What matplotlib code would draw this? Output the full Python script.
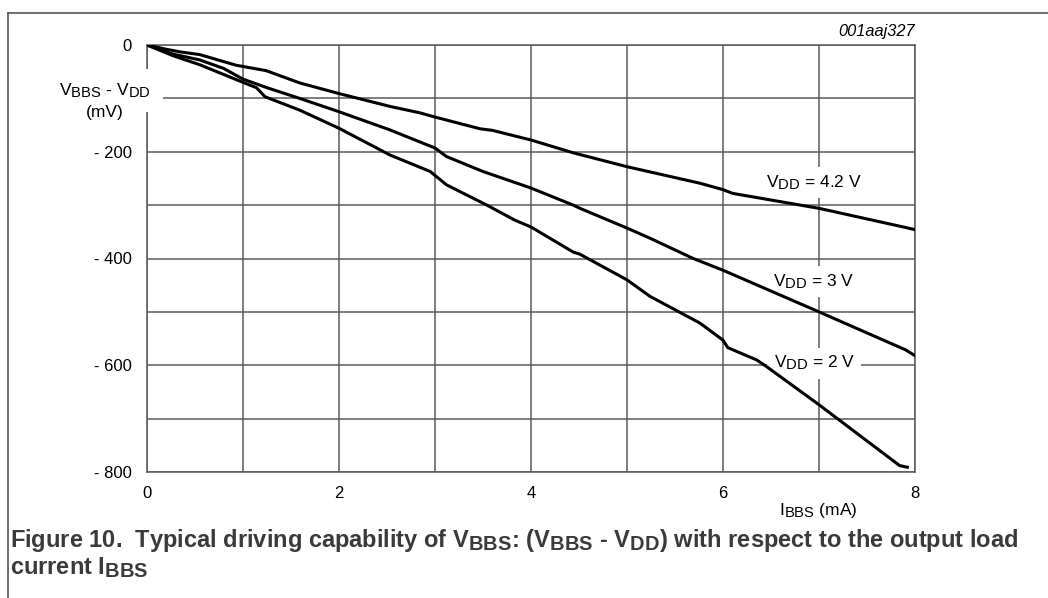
import numpy as np
import matplotlib
matplotlib.use("Agg")
import matplotlib.pyplot as plt
import matplotlib._mathtext as mt
from matplotlib.lines import Line2D
from matplotlib.ticker import MultipleLocator

plt.rcParams['font.family'] = ['Liberation Sans', 'DejaVu Sans']
plt.rcParams['mathtext.fontset'] = 'custom'
plt.rcParams['mathtext.rm'] = 'Liberation Sans'
plt.rcParams['mathtext.it'] = 'Liberation Sans:italic'
plt.rcParams['mathtext.bf'] = 'Liberation Sans:bold'
# the datasheet uses big subscripts
mt.SHRINK_FACTOR = 0.85

# I_BBS (mA) vs (V_BBS - V_DD) (mV)
i_42 = [0, 0.2, 0.35, 0.55, 0.93, 1.24, 1.59, 2.0, 2.53, 2.84, 3.0, 3.47, 3.6,
        4.0, 4.44, 5.0, 5.76, 6.0, 6.1, 7.0, 7.88, 8.0]
v_42 = [0, -8, -13, -18, -38, -48, -71, -91, -115, -127, -135, -157, -160,
        -178, -202, -228, -259, -271, -278, -306, -341, -346]

i_3 = [0, 0.27, 0.55, 0.8, 1.0, 1.25, 1.59, 2.0, 2.53, 3.0, 3.12, 3.5, 4.0,
       4.44, 4.51, 5.0, 5.24, 5.69, 6.0, 7.0, 7.9, 8.0]
v_3 = [0, -17, -28, -44, -64, -80, -100, -125, -159, -193, -209, -237, -268,
       -300, -306, -343, -362, -400, -422, -500, -571, -582]

i_2 = [0, 0.27, 0.55, 1.0, 1.14, 1.23, 1.59, 2.0, 2.53, 2.95, 3.12, 3.54, 3.83,
       4.0, 4.44, 4.51, 5.0, 5.24, 5.76, 6.0, 6.05, 6.35, 6.45, 7.0, 7.84, 7.92]
v_2 = [0, -20, -37, -70, -80, -97, -122, -156, -206, -237, -262, -300, -328,
       -341, -388, -392, -440, -471, -521, -553, -567, -590, -602, -674, -788, -791]

x_ticks = [0, 2, 4, 6, 8]
y_ticks = [0, -200, -400, -600, -800]
y_tick_labels = ['0', '- 200', '- 400', '- 600', '- 800']

W, H = 1048, 598
fig = plt.figure(figsize=(W / 100, H / 100), dpi=100)
ax = fig.add_axes([147 / W, 1 - 472 / H, (915 - 147) / W, (472 - 45) / H])

gcol = '#5a5a5a'
for c, v in [(i_42, v_42), (i_3, v_3), (i_2, v_2)]:
    ax.plot(c, v, color='black', lw=2.2, solid_joinstyle='round', zorder=6)

ax.set_xlim(0, 8)
ax.set_ylim(-800, 0)
ax.xaxis.set_minor_locator(MultipleLocator(1))
ax.yaxis.set_minor_locator(MultipleLocator(100))
ax.set_xticks(x_ticks)
ax.set_yticks(y_ticks)
ax.set_yticklabels(y_tick_labels)
ax.grid(which='both', color=gcol, lw=1.1, zorder=1)
ax.set_axisbelow(True)
ax.tick_params(which='both', length=0, labelsize=12)
ax.tick_params(axis='x', pad=10)
ax.tick_params(axis='y', pad=11)
for s in ax.spines.values():
    s.set_color(gcol)
    s.set_linewidth(1.1)

box = dict(facecolor='white', edgecolor='none', boxstyle='square,pad=0.35')
box_y = dict(facecolor='white', edgecolor='none', boxstyle='square,pad=0.7')

# y axis label (covers the left spine)
ax.text(-0.44, -85, r'V$_{\mathrm{BBS}}$ - V$_{\mathrm{DD}}$', fontsize=12.5,
        ha='center', va='center', bbox=box_y, zorder=5)
ax.text(-0.44, -127, '(mV)', fontsize=12.5, ha='center', va='center', zorder=5)

# x axis label
ax.text(6.99, -(511 - 45) / 0.534, r'I$_{\mathrm{BBS}}$ (mA)', fontsize=12.5,
        ha='center', va='center', zorder=5)

# curve labels
ax.text(6.95, -258, r'V$_{\mathrm{DD}}$ = 4.2 V', fontsize=12.5, ha='center',
        va='center', bbox=box, zorder=5)
ax.text(6.94, -443, r'V$_{\mathrm{DD}}$ = 3 V', fontsize=12.5, ha='center',
        va='center', bbox=box, zorder=5)
ax.text(6.95, -596, r'V$_{\mathrm{DD}}$ = 2 V', fontsize=12.5, ha='center',
        va='center', bbox=box, zorder=5)

# figure code
ax.text(8, 12, '001aaj327', fontsize=11.8, style='italic', ha='right',
        va='bottom')

# caption
ccol = '#3a3a3a'
fig.text(10 / W, 1 - 541 / H,
         r'Figure 10.  Typical driving capability of V$_{\mathbf{BBS}}$: '
         r'(V$_{\mathbf{BBS}}$ - V$_{\mathbf{DD}}$) with respect to the output load',
         fontsize=17, fontweight='bold', color=ccol, va='center', ha='left')
fig.text(10 / W, 1 - 568 / H, r'current I$_{\mathbf{BBS}}$',
         fontsize=17, fontweight='bold', color=ccol, va='center', ha='left')

# outer frame (top and left edges)
fig.add_artist(Line2D([8 / W, 1], [1 - 13 / H, 1 - 13 / H], color='#555555',
                      lw=1.2, transform=fig.transFigure))
fig.add_artist(Line2D([8 / W, 8 / W], [0, 1 - 13 / H], color='#555555',
                      lw=1.2, transform=fig.transFigure))

fig.savefig('out.png', dpi=100)
